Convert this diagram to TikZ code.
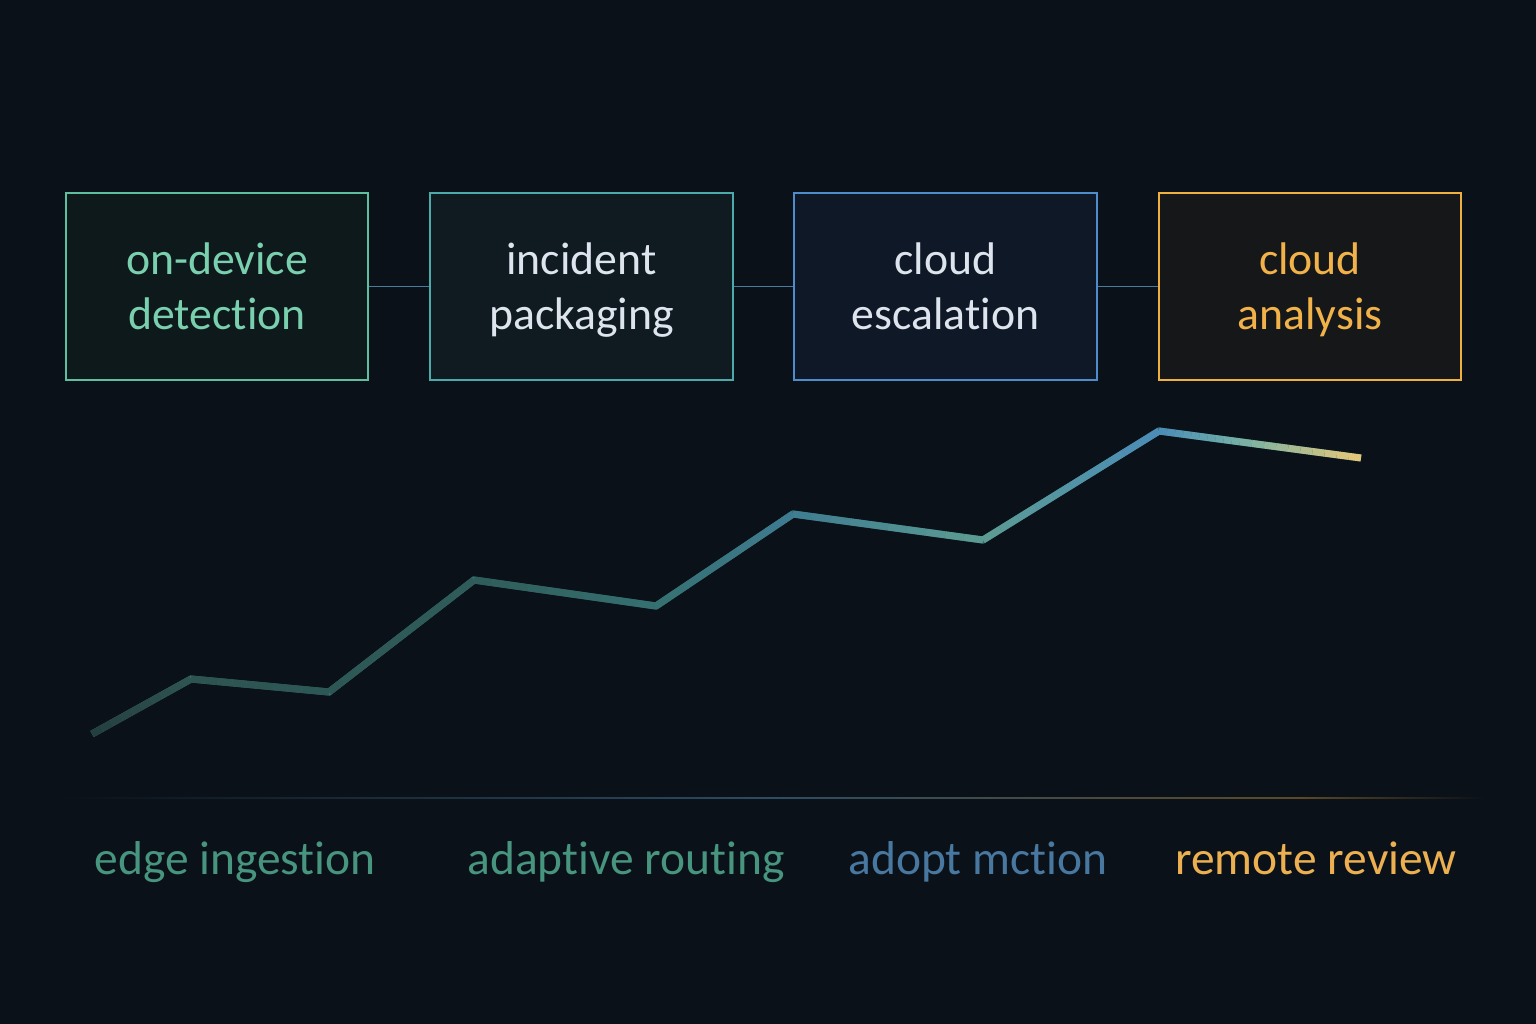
\documentclass[tikz,border=0pt]{standalone}
\usepackage{fontspec}
\setmainfont{Carlito}[Ligatures=NoCommon]
\usetikzlibrary{calc}

\definecolor{bg}{HTML}{0B1119}
% box strokes, fills and texts
\definecolor{detLine}{HTML}{5FBE9E}
\definecolor{detFill}{HTML}{0E191B}
\definecolor{detText}{HTML}{7ACFAE}
\definecolor{pkgLine}{HTML}{4DAAAA}
\definecolor{pkgFill}{HTML}{0F1B21}
\definecolor{escLine}{HTML}{4F8CCB}
\definecolor{escFill}{HTML}{0F1826}
\definecolor{anaLine}{HTML}{F0B040}
\definecolor{anaFill}{HTML}{151719}
\definecolor{anaText}{HTML}{F2B24A}
\definecolor{lightText}{HTML}{DDE4EE}
\definecolor{link}{HTML}{4A7C9E}
% bottom labels
\definecolor{edgeText}{HTML}{47947F}
\definecolor{routText}{HTML}{47947F}
\definecolor{actText}{HTML}{4878A0}
\definecolor{revText}{HTML}{ECB050}
% trend line
\definecolor{tA}{HTML}{243E3E}
\definecolor{tB}{HTML}{2E5451}
\definecolor{tC}{HTML}{2D5755}
\definecolor{tD}{HTML}{2F5C5A}
\definecolor{tE}{HTML}{357070}
\definecolor{tF}{HTML}{3F7C92}
\definecolor{tG}{HTML}{5C9C92}
\definecolor{tH}{HTML}{4A8CB8}
\definecolor{tJ}{HTML}{74B0A6}
\definecolor{tI}{HTML}{E8C878}

\begin{document}
\begin{tikzpicture}[
    x=0.01cm, y=-0.01cm,
    stage/.style={draw, line width=0.6pt, minimum width=3.02cm,
        minimum height=1.87cm, align=center, inner sep=0pt,
        text height=0.96cm, text depth=0.1cm,
        font=\fontsize{13}{15.6}\selectfont},
    phase/.style={inner sep=0pt, anchor=base, font=\fontsize{13.5}{15}\selectfont},
    trend/.style={line width=2pt, line cap=butt}
]
    % Background
    \fill[bg] (0,0) rectangle (1536,1024);

    % Stages
    \node[stage, draw=detLine, fill=detFill, text=detText] (det) at (217,286.5) {on-device\\detection};
    \node[stage, draw=pkgLine, fill=pkgFill, text=lightText] (pkg) at (581.5,286.5) {incident\\packaging};
    \node[stage, draw=escLine, fill=escFill, text=lightText] (esc) at (945.5,286.5) {cloud\\escalation};
    \node[stage, draw=anaLine, fill=anaFill, text=anaText] (ana) at (1310,286.5) {cloud\\analysis};

    % Links
    \draw[link, line width=0.45pt] (det.east) -- (pkg.west);
    \draw[link, line width=0.45pt] (pkg.east) -- (esc.west);
    \draw[link, line width=0.45pt] (esc.east) -- (ana.west);

    % Trend points
    \coordinate (p0) at (92,734);
    \coordinate (p1) at (191,679);
    \coordinate (p2) at (329,692);
    \coordinate (p3) at (474,580);
    \coordinate (p4) at (656,606);
    \coordinate (p5) at (793,514);
    \coordinate (p6) at (983,540);
    \coordinate (p7) at (1159,431);
    \coordinate (p8) at (1361,458);
    \coordinate (q7) at ($(p7)!0.4!(p8)$);

    % Trend line, coloured piece by piece
    \draw[trend, tE, line join=miter] (p0) -- (p1) -- (p2) -- (p3) -- (p4)
        -- (p5) -- (p6) -- (p7) -- (p8);
    \foreach \a/\b/\ca/\cb in {p0/p1/tA/tB, p1/p2/tB/tC, p2/p3/tC/tD,
        p3/p4/tD/tE, p4/p5/tE/tF, p5/p6/tF/tG, p6/p7/tG/tH, p7/q7/tH/tJ,
        q7/p8/tJ/tI}{
        \foreach \t in {0,10,...,90}{
            \pgfmathtruncatemacro{\u}{\t+10}
            \pgfmathtruncatemacro{\m}{\t+5}
            \draw[trend, color=\cb!\m!\ca]
                ($(\a)!\t/100!(\b)$) -- ($(\a)!\u/100!(\b)$);
        }
    }

    % Axis
    \shade[left color=bg, right color=link!55!bg]
        (60,797.3) rectangle (772,798.7);
    \shade[left color=link!55!bg, right color=anaLine!35!bg]
        (772,797.3) rectangle (1300,798.7);
    \shade[left color=anaLine!35!bg, right color=bg]
        (1300,797.3) rectangle (1485,798.7);

    % Phases
    \node[phase, text=edgeText] (edge) at (235,874) {edge ingestion};
    \node[phase, text=routText] (rout) at (626,874) {adaptive routing};
    \node[phase, text=actText] (act) at (978,874) {adopt mction};
    \node[phase, text=revText] (rev) at (1316,874) {remote review};
\end{tikzpicture}
\end{document}
